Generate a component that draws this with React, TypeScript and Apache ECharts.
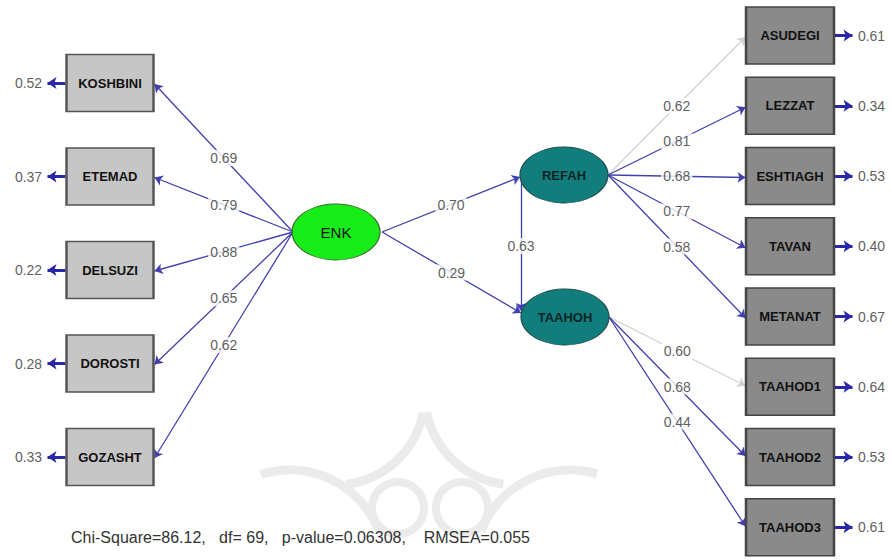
import React, { useEffect, useRef } from "react";
import * as echarts from "echarts";

// ---- data ----
const latentNames = ["ENK", "REFAH", "TAAHOH"];
const enkIndicators = ["KOSHBINI", "ETEMAD", "DELSUZI", "DOROSTI", "GOZASHT"];
const enkLoadings = [0.69, 0.79, 0.88, 0.65, 0.62];
const enkErrors = [0.52, 0.37, 0.22, 0.28, 0.33];
const refahIndicators = ["ASUDEGI", "LEZZAT", "ESHTIAGH", "TAVAN", "METANAT"];
const refahLoadings = [0.62, 0.81, 0.68, 0.77, 0.58];
const refahErrors = [0.61, 0.34, 0.53, 0.4, 0.67];
const taahohIndicators = ["TAAHOD1", "TAAHOD2", "TAAHOD3"];
const taahohLoadings = [0.6, 0.68, 0.44];
const taahohErrors = [0.64, 0.53, 0.61];
const structuralFrom = ["ENK", "ENK", "REFAH"];
const structuralTo = ["REFAH", "TAAHOH", "TAAHOH"];
const structuralValues = [0.7, 0.29, 0.63];
const fixedIndicators = ["ASUDEGI", "TAAHOD1"];
const fitText = "Chi-Square=86.12,   df= 69,   p-value=0.06308,    RMSEA=0.055";

// ---- layout (positions / sizes only) ----
const W = 892;
const H = 560;
const BOX_W = 87;
const BOX_H = 57;
const ELL_W = 88;
const ELL_H = 56;
const LEFT_X = 110;
const LEFT_TOP = 83;
const LEFT_STEP = 93.5;
const RIGHT_X = 790;
const RIGHT_TOP = 35.5;
const RIGHT_STEP = 70.25;
const latentPos: Record<string, [number, number]> = {
  ENK: [336, 232],
  REFAH: [564, 175],
  TAAHOH: [565, 317],
};

const fmt = (v: number) => v.toFixed(2);

export default function App() {
  const ref = useRef<HTMLDivElement>(null);
  useEffect(() => {
    document.body.style.margin = "0";
    const chart = echarts.init(ref.current!, null, { renderer: "svg" });

    const rightIndicators = [...refahIndicators, ...taahohIndicators];
    const rightErrors = [...refahErrors, ...taahohErrors];
    const leftPos = enkIndicators.map((_, i) => [LEFT_X, LEFT_TOP + i * LEFT_STEP]);
    const rightPos = rightIndicators.map((_, i) => [RIGHT_X, RIGHT_TOP + i * RIGHT_STEP]);

    const blue = "#4040b0";
    const gray = "#d2d2d2";

    const edges: any[] = [];
    const edgeLabels: any[] = [];
    const addEdge = (a: number[], b: number[], value: number, color: string) => {
      edges.push({ coords: [a, b], lineStyle: { color } });
      edgeLabels.push({ value: [(a[0] + b[0]) / 2, (a[1] + b[1]) / 2], label: { formatter: fmt(value) } });
    };

    const enk = latentPos.ENK;
    const refah = latentPos.REFAH;
    const taahoh = latentPos.TAAHOH;

    enkIndicators.forEach((n, i) => {
      addEdge([enk[0] - ELL_W / 2 + 1, enk[1]], [leftPos[i][0] + BOX_W / 2 + 1, leftPos[i][1] + 1], enkLoadings[i], blue);
    });
    refahIndicators.forEach((n, i) => {
      const p = rightPos[i];
      addEdge([refah[0] + ELL_W / 2, refah[1]], [p[0] - BOX_W / 2 - 1, p[1] + 1.5], refahLoadings[i], fixedIndicators.includes(n) ? gray : blue);
    });
    taahohIndicators.forEach((n, i) => {
      const p = rightPos[refahIndicators.length + i];
      addEdge([taahoh[0] + ELL_W / 2, taahoh[1]], [p[0] - BOX_W / 2 - 1, p[1] - 1], taahohLoadings[i], fixedIndicators.includes(n) ? gray : blue);
    });
    structuralFrom.forEach((f, i) => {
      const a = latentPos[f];
      const b = latentPos[structuralTo[i]];
      if (f === "ENK") {
        addEdge([a[0] + ELL_W / 2 + 2, a[1]], [b[0] - ELL_W / 2, b[1] + (b[1] > a[1] ? -4 : 2)], structuralValues[i], blue);
      } else {
        addEdge([a[0] - ELL_W / 2 + 1, a[1] + 6], [a[0] - ELL_W / 2 + 1, b[1] - 6], structuralValues[i], blue);
      }
    });

    const errEdges: any[] = [];
    const errLabels: any[] = [];
    leftPos.forEach((p, i) => {
      errEdges.push({ coords: [[p[0] - BOX_W / 2 - 1, p[1]], [p[0] - BOX_W / 2 - 19, p[1]]] });
      errLabels.push({ value: [p[0] - BOX_W / 2 - 38, p[1]], label: { formatter: fmt(enkErrors[i]) } });
    });
    rightPos.forEach((p, i) => {
      errEdges.push({ coords: [[p[0] + BOX_W / 2 + 1, p[1]], [p[0] + BOX_W / 2 + 19, p[1]]] });
      errLabels.push({ value: [p[0] + BOX_W / 2 + 38, p[1]], label: { formatter: fmt(rightErrors[i]) } });
    });

    const boxLabel = {
      show: true,
      position: "inside",
      fontFamily: "Liberation Sans",
      fontWeight: "bold",
      fontSize: 13,
      color: "#111",
    };

    const wm = "#ebebeb";
    const option: any = {
      animation: false,
      backgroundColor: "#ffffff",
      grid: { left: 0, right: 0, top: 0, bottom: 0 },
      xAxis: { type: "value", min: 0, max: W, show: false },
      yAxis: { type: "value", min: 0, max: H, inverse: true, show: false },
      graphic: [
        // faint watermark
        { type: "ring", shape: { cx: 398, cy: 508, r: 30, r0: 22 }, style: { fill: wm }, z: -1 },
        { type: "ring", shape: { cx: 462, cy: 508, r: 30, r0: 22 }, style: { fill: wm }, z: -1 },
        { type: "arc", shape: { cx: 335, cy: 395, r: 90, startAngle: 0.2, endAngle: 1.45 }, style: { stroke: wm, lineWidth: 9, fill: "none" }, z: -1 },
        { type: "arc", shape: { cx: 515, cy: 395, r: 90, startAngle: 1.7, endAngle: 2.95 }, style: { stroke: wm, lineWidth: 9, fill: "none" }, z: -1 },
        { type: "arc", shape: { cx: 290, cy: 565, r: 95, startAngle: 4.4, endAngle: 5.9 }, style: { stroke: wm, lineWidth: 9, fill: "none" }, z: -1 },
        { type: "arc", shape: { cx: 570, cy: 565, r: 95, startAngle: 3.5, endAngle: 5.0 }, style: { stroke: wm, lineWidth: 9, fill: "none" }, z: -1 },
        {
          type: "text",
          x: 71,
          y: 537,
          style: {
            text: fitText,
            fontFamily: "Liberation Sans",
            fontSize: 16,
            fill: "#333",
            verticalAlign: "middle",
          },
          z: 10,
        },
      ],
      series: [
        {
          type: "lines",
          coordinateSystem: "cartesian2d",
          z: 1,
          symbol: ["none", "arrow"],
          symbolSize: 8,
          lineStyle: { width: 1.3, opacity: 1 },
          data: edges,
        },
        {
          type: "lines",
          coordinateSystem: "cartesian2d",
          z: 1,
          symbol: ["none", "arrow"],
          symbolSize: 9,
          lineStyle: { width: 3, color: "#2727a8", opacity: 1 },
          data: errEdges,
        },
        {
          type: "scatter",
          z: 3,
          symbol: "rect",
          symbolSize: [BOX_W, BOX_H],
          itemStyle: { color: "#c6c6c6", borderColor: "#555", borderWidth: 2, opacity: 1 },
          label: boxLabel,
          data: enkIndicators.map((n, i) => ({ name: n, value: leftPos[i], label: { formatter: n } })),
        },
        {
          type: "scatter",
          z: 3,
          symbol: "rect",
          symbolSize: [BOX_W + 1, BOX_H],
          itemStyle: { color: "#8a8a8a", borderColor: "#444", borderWidth: 2, opacity: 1 },
          label: boxLabel,
          data: rightIndicators.map((n, i) => ({ name: n, value: rightPos[i], label: { formatter: n } })),
        },
        {
          type: "scatter",
          z: 3,
          symbol: "circle",
          symbolSize: [ELL_W, ELL_H],
          label: { ...boxLabel, fontWeight: "normal", fontSize: 14 },
          data: latentNames.map((n) => ({
            name: n,
            value: latentPos[n],
            label: { formatter: n, fontWeight: n === "ENK" ? "normal" : "bold", fontSize: n === "ENK" ? 15 : 13, color: n === "ENK" ? "#111" : "#0b2424" },
            itemStyle:
              n === "ENK"
                ? { color: "#18ec18", borderColor: "#3a6a2a", borderWidth: 1, opacity: 1 }
                : { color: "#117d7d", borderColor: "#1f4d4d", borderWidth: 1, opacity: 1 },
          })),
        },
        {
          type: "scatter",
          z: 4,
          symbolSize: 0,
          label: {
            show: true,
            position: "inside",
            fontFamily: "Liberation Sans",
            fontSize: 14,
            color: "#333",
            backgroundColor: "#ffffff",
            padding: [1, 2],
          },
          data: edgeLabels,
        },
        {
          type: "scatter",
          z: 4,
          symbolSize: 0,
          label: {
            show: true,
            position: "inside",
            fontFamily: "Liberation Sans",
            fontSize: 14,
            color: "#333",
          },
          data: errLabels,
        },
      ],
    };
    chart.setOption(option);
    return () => chart.dispose();
  }, []);
  return <div ref={ref} style={{ width: W, height: H }} />;
}
